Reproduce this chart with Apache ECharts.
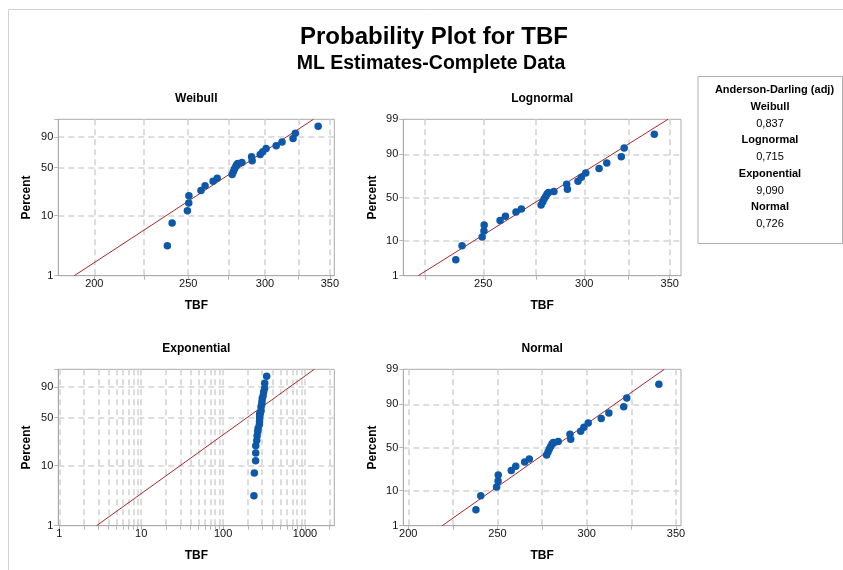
<!DOCTYPE html>
<html>
<head>
<meta charset="utf-8">
<script src="https://cdn.jsdelivr.net/npm/echarts@6/dist/echarts.min.js"></script>
<style>
html,body{margin:0;padding:0;background:#fff;}
#chart{width:843px;height:570px;}
</style>
</head>
<body>
<div id="chart"></div>
<script>
// ---------------- data ----------------
const tbf     = [237.9, 240.6, 249.5, 250.3, 250.4, 257.7, 260.2, 265.2, 267.8, 277.5, 278.3, 279.0, 279.8, 280.5, 281.2, 284.0, 291.0, 290.6, 296.6, 298.4, 300.8, 308.1, 312.4, 320.7, 322.4, 340.4];
const percent = [3.2, 7.6, 12.0, 15.9, 20.6, 24.7, 28.9, 33.4, 36.7, 41.2, 44.6, 48.1, 51.2, 54.0, 55.8, 57.0, 59.8, 65.3, 68.6, 72.6, 76.8, 80.6, 84.8, 88.7, 93.0, 97.0];

const fitPercent        = [1, 99];
const weibullFitTBF     = [190.7, 336.6];
const lognormalFitTBF   = [222.3, 348.9];
const exponentialFitTBF = [2.85, 1300];
const normalFitTBF      = [219.0, 343.4];

const percentTicks      = [1, 10, 50, 90, 99];
const weibullPctLabels  = [1, 10, 50, 90];
const normalPctLabels   = [1, 10, 50, 90, 99];

const weibullXTicks     = [200, 225, 250, 275, 300, 325, 350];
const weibullXLabels    = [200, 250, 300, 350];
const lognormalXTicks   = [225, 250, 275, 300, 325, 350];
const lognormalXLabels  = [250, 300, 350];
const exponentialXTicks = [1, 2, 3, 4, 5, 6, 7, 8, 9, 10, 20, 30, 40, 50, 60, 70, 80, 90, 100, 200, 300, 400, 500, 600, 700, 800, 900, 1000, 2000];
const exponentialXLabels= [1, 10, 100, 1000];
const normalXTicks      = [200, 225, 250, 275, 300, 325, 350];
const normalXLabels     = [200, 250, 300, 350];

const adNames  = ['Weibull', 'Lognormal', 'Exponential', 'Normal'];
const adValues = ['0,837', '0,715', '9,090', '0,726'];

// ---------------- transforms ----------------
function probit(p){
  const a=[-3.969683028665376e+01,2.209460984245205e+02,-2.759285104469687e+02,1.383577518672690e+02,-3.066479806614716e+01,2.506628277459239e+00];
  const b=[-5.447609879822406e+01,1.615858368580409e+02,-1.556989798598866e+02,6.680131188771972e+01,-1.328068155288572e+01];
  const c=[-7.784894002430293e-03,-3.223964580411365e-01,-2.400758277161838e+00,-2.549732539343734e+00,4.374664141464968e+00,2.938163982698783e+00];
  const d=[7.784695709041462e-03,3.224671290700398e-01,2.445134137142996e+00,3.754408661907416e+00];
  const pl=0.02425, ph=1-pl; let q,r;
  if(p<pl){q=Math.sqrt(-2*Math.log(p));return (((((c[0]*q+c[1])*q+c[2])*q+c[3])*q+c[4])*q+c[5])/((((d[0]*q+d[1])*q+d[2])*q+d[3])*q+1);}
  if(p<=ph){q=p-0.5;r=q*q;return (((((a[0]*r+a[1])*r+a[2])*r+a[3])*r+a[4])*r+a[5])*q/(((((b[0]*r+b[1])*r+b[2])*r+b[3])*r+b[4])*r+1);}
  q=Math.sqrt(-2*Math.log(1-p));return -(((((c[0]*q+c[1])*q+c[2])*q+c[3])*q+c[4])*q+c[5])/((((d[0]*q+d[1])*q+d[2])*q+d[3])*q+1);
}
const wT  = p => Math.log(-Math.log(1 - p/100));
const zT  = p => probit(p/100);
const lg  = v => Math.log10(v);
const lin = v => v;

// ---------------- panels ----------------
const FONT = '"Liberation Sans", Arial, sans-serif';
const panels = [
  {name:'Weibull',     grid:{left:58.3, top:119.3, width:276, height:156.4}, xT:lg,  yT:wT, xMin:183.6, xMax:353.7, xTicks:weibullXTicks,     xLabels:weibullXLabels,     yLabels:weibullPctLabels, fit:weibullFitTBF,     yName:26},
  {name:'Lognormal',   grid:{left:403.3, top:119.3, width:277.7, height:156.4}, xT:lg, yT:zT, xMin:216.4, xMax:357.2, xTicks:lognormalXTicks,   xLabels:lognormalXLabels,   yLabels:normalPctLabels,  fit:lognormalFitTBF,   yName:25},
  {name:'Exponential', grid:{left:58.3, top:369.3, width:276, height:156.4}, xT:lg,  yT:wT, xMin:0.972, xMax:2279,  xTicks:exponentialXTicks, xLabels:exponentialXLabels, yLabels:weibullPctLabels, fit:exponentialFitTBF, yName:26},
  {name:'Normal',      grid:{left:403.3, top:369.3, width:277.7, height:156.4}, xT:lin, yT:zT, xMin:197.2, xMax:352.8, xTicks:normalXTicks,     xLabels:normalXLabels,      yLabels:normalPctLabels,  fit:normalFitTBF,      yName:25}
];

const gridLine = {show:true, lineStyle:{color:'#d4d4d4', width:1.6, type:[6,4]}};
const grids=[], xAxes=[], yAxes=[], series=[], graphics=[];

panels.forEach((P, i) => {
  grids.push(Object.assign({show:true, borderColor:'#ababab', borderWidth:1, backgroundColor:'#fff'}, P.grid));
  xAxes.push({
    type:'value', gridIndex:i, min:P.xT(P.xMin), max:P.xT(P.xMax),
    name:'TBF', nameLocation:'middle', nameGap:24,
    nameTextStyle:{fontFamily:FONT, fontWeight:'bold', fontSize:12, color:'#000'},
    axisLine:{show:true, onZero:false, lineStyle:{color:'#ababab', width:1}},
    axisTick:{show:true, length:4, customValues:P.xTicks.map(P.xT), lineStyle:{color:'#b5b5b5'}},
    axisLabel:{show:true, margin:3, fontFamily:FONT, fontSize:11, color:'#111',
      customValues:P.xLabels.map(P.xT),
      formatter: v => {const t = P.xT===lin ? v : Math.pow(10, v); return String(Math.round(t));}},
    splitLine:gridLine
  });
  const yTickVals = percentTicks.map(P.yT);
  yAxes.push({
    type:'value', gridIndex:i, min:P.yT(1), max:P.yT(99),
    name:'Percent', nameLocation:'middle', nameGap:P.yName, nameRotate:90,
    nameTextStyle:{fontFamily:FONT, fontWeight:'bold', fontSize:12, color:'#000'},
    axisLine:{show:true, onZero:false, lineStyle:{color:'#ababab', width:1}},
    axisTick:{show:true, length:4, customValues:yTickVals, lineStyle:{color:'#b5b5b5'}},
    axisLabel:{show:true, margin:5, fontFamily:FONT, fontSize:11, color:'#111',
      customValues:P.yLabels.map(P.yT),
      formatter: v => {
        let best = 0, bd = Infinity;
        percentTicks.forEach((p, k) => {const dd = Math.abs(P.yT(p) - v); if (dd < bd){bd = dd; best = k;}});
        return String(percentTicks[best]);
      }},
    splitLine:Object.assign({showMinLine:false, showMaxLine:false}, gridLine)
  });
  series.push({
    type:'line', xAxisIndex:i, yAxisIndex:i, showSymbol:false, symbol:'none', silent:true,
    data: P.fit.map((t, k) => [P.xT(t), P.yT(fitPercent[k])]),
    lineStyle:{color:'#a8262b', width:1}, z:3
  });
  series.push({
    type:'scatter', xAxisIndex:i, yAxisIndex:i, symbolSize:7.5,
    data: tbf.map((t, k) => [P.xT(t), P.yT(percent[k])]),
    itemStyle:{color:'#0d58a8', opacity:1}, z:4
  });
  graphics.push({type:'text', x:P.grid.left + P.grid.width/2, y:P.grid.top - 21, style:{
    text:P.name, font:'bold 12px ' + FONT, fill:'#000',
    align:'center', verticalAlign:'middle', textAlign:'center', textVerticalAlign:'middle'}});
});

// titles
graphics.push({type:'text', x:434, y:37, style:{text:'Probability Plot for TBF', font:'bold 24px ' + FONT, fill:'#000',
  align:'center', verticalAlign:'middle', textAlign:'center', textVerticalAlign:'middle'}});
graphics.push({type:'text', x:431, y:63.5, style:{text:'ML Estimates-Complete Data', font:'bold 19.5px ' + FONT, fill:'#000',
  align:'center', verticalAlign:'middle', textAlign:'center', textVerticalAlign:'middle'}});

// outer frame lines
graphics.push({type:'line', shape:{x1:8.5, y1:9.5, x2:843, y2:9.5}, style:{stroke:'#d2d2d2', lineWidth:1}});
graphics.push({type:'line', shape:{x1:8.5, y1:9.5, x2:8.5, y2:570}, style:{stroke:'#d2d2d2', lineWidth:1}});

// Anderson-Darling box
graphics.push({type:'rect', shape:{x:698, y:76.5, width:144.5, height:167}, style:{fill:'#fff', stroke:'#b0b0b0', lineWidth:1}});
const boxLines = [{t:'Anderson-Darling (adj)', b:true, x:774.5}];
adNames.forEach((n, k) => { boxLines.push({t:n, b:true, x:770}); boxLines.push({t:adValues[k], b:false, x:770}); });
boxLines.forEach((L, k) => {
  graphics.push({type:'text', x:L.x, y:90 + k*16.75, style:{text:L.t, font:(L.b ? 'bold ' : '') + '11px ' + FONT, fill:'#000',
    align:'center', verticalAlign:'middle', textAlign:'center', textVerticalAlign:'middle'}});
});

const chart = echarts.init(document.getElementById('chart'), null, {renderer:'canvas'});
chart.setOption({
  backgroundColor:'#fff',
  animation:false,
  grid:grids, xAxis:xAxes, yAxis:yAxes, series:series,
  graphic:{elements:graphics}
});
</script>
</body>
</html>
